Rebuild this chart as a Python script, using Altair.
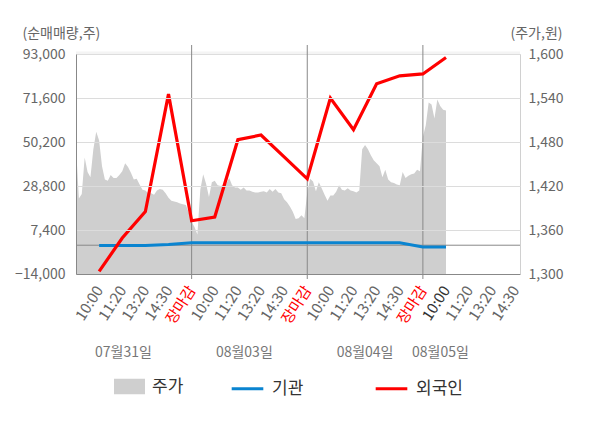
import altair as alt
import pandas as pd

FONT = "Noto Sans CJK KR"

# ---- data -------------------------------------------------------------
# x position unit: one "slot" = one tick label; 5 slots per trading day
flow_slots = list(range(1, 17))
foreign_net = [-12750, 3500, 16400, 73500, 11900, 13700, 51300, 53600,
               43000, 32300, 71600, 56200, 78500, 82400, 83300, 91300]
inst_net = [-100, -100, -100, 400, 1200, 1200, 1200, 1200,
            1200, 1200, 1200, 1200, 1200, 1200, -900, -900]

# intraday price samples, 8 samples per slot (40 per day)
price_day1 = [1473, 1403, 1409, 1459, 1439, 1432, 1470, 1494, 1482, 1447,
              1429, 1427, 1435, 1431, 1431, 1435, 1440, 1451, 1446, 1438,
              1429, 1430, 1422, 1415, 1414, 1410, 1410, 1408, 1414, 1416,
              1415, 1410, 1404, 1400, 1399, 1398, 1396, 1395, 1394, 1384]
price_day2 = [1371, 1364, 1354, 1415, 1436, 1423, 1405, 1425, 1427, 1421,
              1420, 1421, 1423, 1431, 1421, 1418, 1418, 1415, 1418, 1414,
              1414, 1412, 1411, 1411, 1412, 1413, 1411, 1416, 1412, 1416,
              1411, 1410, 1402, 1398, 1392, 1385, 1375, 1376, 1380, 1376]
price_day3 = [1411, 1430, 1426, 1413, 1425, 1417, 1408, 1400, 1407, 1407,
              1412, 1421, 1415, 1414, 1417, 1414, 1413, 1411, 1414, 1470,
              1476, 1470, 1462, 1455, 1451, 1447, 1432, 1442, 1429, 1425,
              1424, 1422, 1421, 1439, 1431, 1434, 1436, 1437, 1442, 1440]
price_day4 = [1487, 1503, 1534, 1531, 1512, 1538, 1529, 1524, 1523]

tick_labels = ["10:00", "11:20", "13:20", "14:30", "장마감",
               "10:00", "11:20", "13:20", "14:30", "장마감",
               "10:00", "11:20", "13:20", "14:30", "장마감",
               "10:00", "11:20", "13:20", "14:30"]
day_close_slots = [5, 10, 15]
current_slot = 16
date_labels = ["07월31일", "08월03일", "08월04일", "08월05일"]
date_label_slots = [2.05, 7.28, 12.5, 15.76]

left_ticks = [-14000, 7400, 28800, 50200, 71600, 93000]
right_ticks = [1300, 1360, 1420, 1480, 1540, 1600]
price_name = "주가"
flow_names = ["기관", "외국인"]
price_color = "#cfcfcf"
flow_colors = ["#0a84d0", "#ff0000"]

# ---- tables -----------------------------------------------------------
price_rows = []
for d, arr in enumerate([price_day1, price_day2, price_day3, price_day4]):
    for j, p in enumerate(arr):
        price_rows.append({"x": d * 5 + j / 8, "price": p, "series": price_name})
price_df = pd.DataFrame(price_rows)

inst_df = pd.DataFrame({"x": flow_slots, "v": inst_net, "series": flow_names[0]})
foreign_df = pd.DataFrame({"x": flow_slots, "v": foreign_net, "series": flow_names[1]})
zero_df = pd.DataFrame({"v": [0]})
sep_df = pd.DataFrame({"x": day_close_slots})
date_df = pd.DataFrame({"x": date_label_slots, "label": date_labels})
one_df = pd.DataFrame({"k": [0]})

W, H = 444, 220

label_js = "[" + ",".join('"%s"' % t for t in tick_labels) + "]"
color_js = ("datum.value % 5 == 0 ? '#ff0000' : (datum.value == " + str(current_slot)
            + " ? '#333333' : '#666666')")
grid_js = ("datum.value == %d || datum.value == %d ? 'transparent' : '#dcdcdc'"
           % (left_ticks[0], left_ticks[-1]))
x_scale = alt.Scale(domain=[0, 19.2], nice=False, zero=False)
x_axis = alt.Axis(values=list(range(1, 20)), labelExpr=label_js + "[datum.value - 1]",
                  labelAngle=303, labelAlign="right", labelBaseline="middle",
                  labelPadding=13, labelFontSize=15, labelFont=FONT,
                  labelColor={"expr": color_js},
                  ticks=False, grid=False, domainColor="#888888", title=None,
                  labelOverlap=False)


def xenc():
    return alt.X("x:Q", scale=x_scale, axis=x_axis)


left_scale = alt.Scale(domain=[-14000, 93000], nice=False, zero=False)
left_axis = alt.Axis(orient="left", values=left_ticks, format=",.0f", ticks=False,
                     labelPadding=11, labelFontSize=14, labelFont=FONT, labelColor="#666666",
                     domainColor="#888888", grid=True, gridColor={"expr": grid_js},
                     gridWidth=1, zindex=1,
                     title="(순매매량,주)", titleAngle=0, titleX=-54, titleY=-21,
                     titleAlign="left", titleBaseline="middle", titleFont=FONT,
                     titleFontSize=14, titleFontWeight="normal", titleColor="#666666")
right_axis = alt.Axis(orient="right", values=right_ticks, format=",.0f", ticks=False,
                      labelPadding=8, labelFontSize=14, labelFont=FONT, labelColor="#666666",
                      domainColor="#d0d0d0", grid=False,
                      title="(주가,원)", titleAngle=0, titleX=-10, titleY=-21,
                      titleAlign="left", titleBaseline="middle", titleFont=FONT,
                      titleFontSize=14, titleFontWeight="normal", titleColor="#666666")


def yleft(field="v"):
    return alt.Y(field + ":Q", scale=left_scale, axis=left_axis)


price_legend = alt.Legend(orient="none", legendX=38, legendY=317, title=None,
                          symbolType="M-1,-0.5L1,-0.5L1,0.5L-1,0.5Z", symbolSize=961,
                          symbolStrokeWidth=0, labelFontSize=17, labelFont=FONT,
                          labelColor="#333333", labelOffset=7, padding=0)
flow_legend = alt.Legend(orient="none", legendX=154, legendY=317, direction="horizontal",
                         title=None, symbolType="stroke", symbolSize=1000, symbolStrokeWidth=3,
                         labelFontSize=17, labelFont=FONT, labelColor="#333333",
                         labelOffset=7, columnPadding=65, padding=0)
stroke_enc = alt.Stroke("series:N", scale=alt.Scale(domain=flow_names, range=flow_colors),
                        legend=flow_legend)

area = alt.Chart(price_df).mark_area().encode(
    x=xenc(),
    y=alt.Y("price:Q", scale=alt.Scale(domain=[1300, 1600], nice=False, zero=False),
            axis=right_axis),
    y2=alt.datum(1300),
    fill=alt.Fill("series:N", scale=alt.Scale(domain=[price_name], range=[price_color]),
                  legend=price_legend),
)

top_strip = alt.Chart(one_df).mark_rect(color="#f4f4f4").encode(
    x=alt.value(0), x2=alt.value(W), y=alt.value(-2.6), y2=alt.value(0))
zero = alt.Chart(zero_df).mark_rule(color="#888888", strokeWidth=1).encode(y=yleft())
seps = alt.Chart(sep_df).mark_rule(color="#888888", strokeWidth=1).encode(
    x=xenc(), y=alt.value(-9), y2=alt.value(H + 5))
inst = alt.Chart(inst_df).mark_line(strokeWidth=3).encode(x=xenc(), y=yleft(), stroke=stroke_enc)
foreign = alt.Chart(foreign_df).mark_line(strokeWidth=3.2).encode(x=xenc(), y=yleft(), stroke=stroke_enc)
dates = alt.Chart(date_df).mark_text(font=FONT, fontSize=14, color="#777777",
                                     baseline="middle", align="center").encode(
    x=xenc(), y=alt.value(299), text="label:N")

flows = alt.layer(top_strip, zero, seps, inst, foreign, dates)

chart = alt.layer(area, flows).resolve_scale(y="independent").properties(
    width=W, height=H,
    autosize=alt.AutoSizeParams(type="none"),
    padding={"left": 68, "top": 46, "right": 72, "bottom": 154},
).configure_view(stroke=None, fill="#f4f4f4").configure(font=FONT)

chart.save("out.html", embed_options={"renderer": "svg", "actions": False})
